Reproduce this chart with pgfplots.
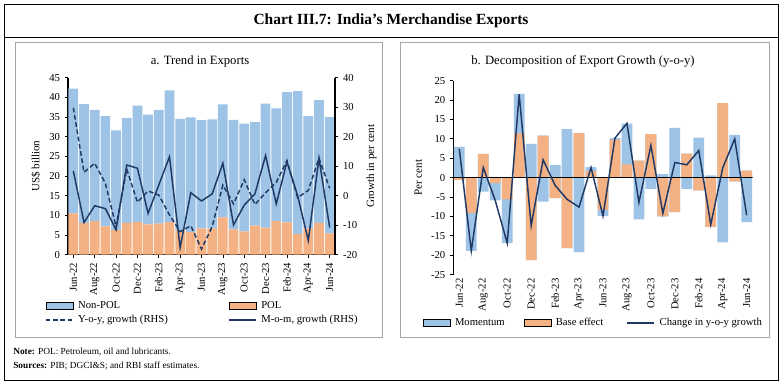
\documentclass[border=0pt]{standalone}
\usepackage{pgfplots}
\usepackage{pgfplotstable}
\pgfplotsset{compat=1.18}
\usepackage{fontspec}
\setmainfont{Liberation Serif}
\definecolor{nonpol}{RGB}{157,195,230}
\definecolor{pol}{RGB}{244,177,131}
\definecolor{navy}{RGB}{32,56,100}
\definecolor{panelgray}{RGB}{166,166,166}

\pgfplotstableread{
x nonpol pol yoy mom
1 31.7 10.5 29.8 8.4
2 30.2 8.1 7.9 -9.1
3 28.3 8.5 11.0 -3.4
4 28.0 7.2 4.2 -4.4
5 25.3 6.3 -10.5 -11.6
6 26.7 8.1 9.0 10.4
7 29.6 8.3 -2.2 9.3
8 27.9 7.7 1.6 -6.0
9 28.9 7.9 0.2 3.6
10 33.5 8.3 -6.5 13.2
11 28.3 6.2 -12.2 -17.6
12 29.1 5.8 -10.2 1.0
13 27.5 6.7 -18.1 -1.8
14 27.7 6.7 -10.5 0.6
15 28.7 9.5 3.6 11.0
16 27.9 6.4 -2.8 -9.9
17 27.4 5.9 5.4 -3.2
18 26.3 7.4 -3.0 0.6
19 31.5 6.9 1.0 13.6
20 28.7 8.5 4.5 -2.8
21 33.1 8.2 11.9 11.5
22 36.3 5.3 -0.7 0.0
23 28.5 6.7 1.8 -15.2
24 31.2 8.1 12.7 12.7
25 29.6 5.4 2.5 -10.8
}\lefttab

\pgfplotstableread{
x mom base chg
1 7.9 -0.6 7.4
2 -9.8 -9.1 -18.9
3 -3.6 6.1 2.6
4 -4.5 -1.4 -5.9
5 -11.3 -5.6 -16.9
6 10.2 11.4 21.5
7 8.7 -21.3 -12.4
8 -6.2 10.8 4.6
9 3.2 -5.3 -2.0
10 12.5 -18.2 -5.6
11 -19.2 11.5 -7.6
12 1.0 1.7 2.6
13 -1.6 -8.3 -9.9
14 0.4 9.8 10.2
15 10.5 3.4 14.0
16 -10.8 4.4 -6.4
17 -2.9 11.2 8.3
18 0.9 -10.0 -9.2
19 12.8 -8.9 3.9
20 -2.9 6.2 3.3
21 10.3 -3.3 7.0
22 0.6 -12.7 -12.1
23 -16.7 19.2 2.5
24 11.0 -1.0 10.0
25 -11.5 1.8 -9.7
}\righttab

\pgfplotsset{
  base/.style={
    scale only axis,
    xmin=0.5, xmax=25.5,
    /pgf/number format/assume math mode=true,
    tick label style={font=\fontsize{8}{9}\selectfont},
    label style={font=\fontsize{8.3}{10}\selectfont},
    tick align=outside,
    major tick length=2.5pt,
    tick style={black, line width=0.5pt},
    axis line style={black, line width=1pt},
    xtick={1,3,...,25},
    xticklabels={Jun-22,Aug-22,Oct-22,Dec-22,Feb-23,Apr-23,Jun-23,Aug-23,Oct-23,Dec-23,Feb-24,Apr-24,Jun-24},
    xticklabel style={rotate=90, anchor=east},
    legend style={draw=none, fill=none, inner sep=0pt, outer sep=0pt,
      nodes={inner sep=1pt, anchor=west}, font=\fontsize{8}{9.5}\selectfont},
    legend cell align=left,
  },
  boxleg/.style={legend image code/.code={\fill[#1] (0pt,-2.4pt) rectangle (20.25pt,2.4pt);}},
  dashleg/.style={legend image code/.code={\draw[navy, line width=1.1pt, dash pattern=on 3.5pt off 2pt] (0pt,0pt) -- (20.25pt,0pt);}},
  solidleg/.style={legend image code/.code={\draw[navy, line width=1.1pt] (0pt,0pt) -- (20.25pt,0pt);}},
}

\begin{document}
\begin{tikzpicture}
\useasboundingbox (0,0) rectangle (587.25pt,-288.75pt);
\draw[black, line width=0.6pt] (3pt,-3pt) rectangle (583.5pt,-285pt);
\draw[black, line width=0.6pt] (3pt,-27.75pt) -- (583.5pt,-27.75pt);
\node[font=\fontsize{11.6}{13}\selectfont\bfseries] at (293.25pt,-15.75pt) {Chart III.7: India’s Merchandise Exports};
\draw[panelgray, line width=0.75pt] (11.8pt,-32.25pt) rectangle (286.5pt,-252.75pt);
\draw[panelgray, line width=0.75pt] (300pt,-32.25pt) rectangle (576.75pt,-252.75pt);
\node[font=\fontsize{9.5}{11}\selectfont] at (150pt,-45.75pt) {a. Trend in Exports};
\node[font=\fontsize{9.5}{11}\selectfont] at (437.25pt,-45.75pt) {b. Decomposition of Export Growth (y-o-y)};
\node[anchor=west, inner sep=0pt, font=\fontsize{7}{8}\selectfont] at (9.75pt,-264pt) {\textbf{Note:} POL: Petroleum, oil and lubricants.};
\node[anchor=west, inner sep=0pt, font=\fontsize{7}{8}\selectfont] at (9.75pt,-274.5pt) {\textbf{Sources:} PIB; DGCI\&S; and RBI staff estimates.};

% ---------- Panel a: bars ----------
\begin{axis}[base,
  at={(51pt,-191pt)}, anchor=south west,
  width=200.25pt, height=132.75pt,
  ybar stacked, bar width=7.3pt,
  ymin=0, ymax=45, ytick={0,5,...,45},
  axis y line*=left, axis x line*=bottom,
  ylabel={US\$ billion},
]
\addplot[fill=pol, draw=none, forget plot] table[x=x,y=pol]{\lefttab};
\addplot[fill=nonpol, draw=none, forget plot] table[x=x,y=nonpol]{\lefttab};
\end{axis}

% ---------- Panel a: growth lines ----------
\begin{axis}[base,
  at={(51pt,-191pt)}, anchor=south west,
  width=200.25pt, height=132.75pt,
  ymin=-20, ymax=40, ytick={-20,-10,...,40},
  axis y line*=right, axis x line=none,
  ylabel={Growth in per cent},
  legend columns=2,
  legend style={at={(-0.086,-0.255)}, anchor=north west, row sep=2pt,
    /tikz/every odd column/.append style={column sep=2.5pt}},
]
\addlegendimage{boxleg={fill=nonpol}}
\addlegendentry{\makebox[111.5pt][l]{Non-POL}}
\addlegendimage{boxleg={fill=pol}}
\addlegendentry{POL}
\addlegendimage{dashleg}
\addlegendentry{\makebox[111.5pt][l]{Y-o-y, growth (RHS)}}
\addlegendimage{solidleg}
\addlegendentry{M-o-m, growth (RHS)}
\addplot[navy, line width=1.1pt, dash pattern=on 3.5pt off 2pt, mark=none, forget plot] table[x=x,y=yoy]{\lefttab};
\addplot[navy, line width=1.1pt, mark=none, forget plot] table[x=x,y=mom]{\lefttab};
\end{axis}

% ---------- Panel b ----------
\begin{axis}[base,
  at={(340pt,-205.9pt)}, anchor=south west,
  width=224.5pt, height=145.4pt,
  ybar, bar width=8.1pt, /pgf/bar shift=0pt,
  ymin=-25, ymax=25, ytick={-25,-20,...,25},
  axis y line*=left, axis x line*=bottom,
  x axis line style={draw=none},
  x tick style={draw=none},
  xticklabel shift=-3pt,
  ylabel={Per cent},
  legend columns=3,
  legend style={at={(-0.102,-0.218)}, anchor=north west,
    /tikz/every odd column/.append style={column sep=2.5pt}},
]
\addlegendimage{boxleg={fill=nonpol}}
\addlegendentry{\makebox[50.5pt][l]{Momentum}}
\addlegendimage{boxleg={fill=pol}}
\addlegendentry{\makebox[52pt][l]{Base effect}}
\addlegendimage{solidleg}
\addlegendentry{Change in y-o-y growth}
\addplot[fill=nonpol, draw=none, forget plot] table[x=x, y expr={max(\thisrow{base},0)+max(\thisrow{mom},0)}]{\righttab};
\addplot[fill=nonpol, draw=none, forget plot] table[x=x, y expr={min(\thisrow{base},0)+min(\thisrow{mom},0)}]{\righttab};
\addplot[fill=pol, draw=none, forget plot] table[x=x, y expr={max(\thisrow{base},0)}]{\righttab};
\addplot[fill=pol, draw=none, forget plot] table[x=x, y expr={min(\thisrow{base},0)}]{\righttab};
\addplot[sharp plot, black, line width=1.3pt, forget plot] coordinates {(0.5,0) (25.5,0)};
\addplot[sharp plot, navy, line width=1.1pt, mark=none, forget plot] table[x=x,y=chg]{\righttab};
\end{axis}
\end{tikzpicture}
\end{document}
